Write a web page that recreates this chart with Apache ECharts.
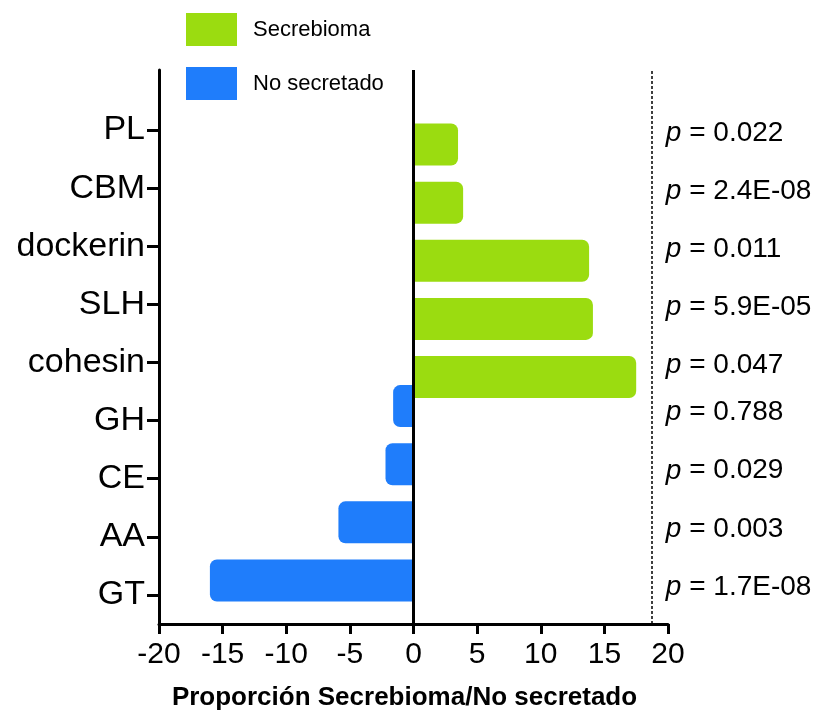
<!DOCTYPE html>
<html><head><meta charset="utf-8">
<script src="https://cdn.jsdelivr.net/npm/echarts@6/dist/echarts.min.js"></script>
<style>html,body{margin:0;padding:0;background:#fff}#c{width:818px;height:718px}</style>
</head><body><div id="c"></div>
<script>
// ---- data ----
const categories = ['PL', 'CBM', 'dockerin', 'SLH', 'cohesin', 'GH', 'CE', 'AA', 'GT'];
const secrebioma = [3.5, 3.9, 13.8, 14.1, 17.5, null, null, null, null];
const noSecretado = [null, null, null, null, null, -1.6, -2.2, -5.9, -16.0];
const pValues = ['0.022', '2.4E-08', '0.011', '5.9E-05', '0.047', '0.788', '0.029', '0.003', '1.7E-08'];
const seriesNames = ['Secrebioma', 'No secretado'];
const xMin = -20, xMax = 20, xInterval = 5;
const thresholdX = 18.7;
const axisTitle = 'Proporción Secrebioma/No secretado';

// ---- styling ----
const FONT = "'Liberation Sans', Arial, sans-serif";
const GREEN = '#9bdc10';
const BLUE = '#1f7dfb';
const pX = 19.44;

const greenIdx = categories.map((c, i) => i).filter(i => secrebioma[i] != null);
const blueIdx = categories.map((c, i) => i).filter(i => noSecretado[i] != null);

const pLabel = {
  show: true, position: 'right', distance: 5, opacity: 1,
  formatter: p => '{i|p}{t| = ' + p.data.p + '}',
  color: '#000', fontFamily: FONT, fontSize: 28,
  rich: {
    i: { fontStyle: 'italic', fontFamily: FONT, fontSize: 28, color: '#000' },
    t: { fontFamily: FONT, fontSize: 28, color: '#000' }
  }
};

const option = {
  animation: false,
  backgroundColor: '#fff',
  legend: {
    orient: 'vertical', left: 181, top: 8,
    itemWidth: 51, itemHeight: 33, itemGap: 21,
    icon: 'rect',
    data: seriesNames,
    textStyle: { fontFamily: FONT, fontSize: 22, color: '#000', padding: [0, 0, 0, 11] }
  },
  grid: [
    { left: 159, right: 150, top: 101, bottom: 94 },
    { left: 159, right: 150, top: 70, bottom: 94 }
  ],
  xAxis: [
    {
      gridIndex: 0, type: 'value', min: xMin, max: xMax, interval: xInterval,
      name: axisTitle, nameLocation: 'middle', nameGap: 61,
      nameTextStyle: { fontFamily: FONT, fontSize: 26, fontWeight: 'bold', color: '#000', padding: [0, 18, 0, 0] },
      axisLine: { show: true, onZero: false, lineStyle: { color: '#000', width: 3 } },
      axisTick: { show: true, length: 10, lineStyle: { color: '#000', width: 3 } },
      axisLabel: { fontFamily: FONT, fontSize: 30, color: '#000', margin: 16 },
      splitLine: { show: false }
    },
    {
      gridIndex: 1, type: 'value', min: xMin, max: xMax, interval: xInterval,
      show: false
    }
  ],
  yAxis: [
    {
      gridIndex: 0, type: 'category', data: categories, inverse: true,
      axisLine: { show: false, onZero: false },
      axisTick: { show: true, length: 12, alignWithLabel: true, lineStyle: { color: '#000', width: 3 } },
      axisLabel: { fontFamily: FONT, fontSize: 34, color: '#000', margin: 14 },
      splitLine: { show: false }
    },
    {
      gridIndex: 1, type: 'value', min: 0, max: 1,
      axisLine: { show: true, onZero: false, lineStyle: { color: '#000', width: 3 } },
      axisTick: { show: false }, axisLabel: { show: false }, splitLine: { show: false }
    }
  ],
  series: [
    {
      name: seriesNames[1], type: 'bar', xAxisIndex: 0, yAxisIndex: 0,
      data: noSecretado, barWidth: 42, barGap: '-31%',
      itemStyle: { color: BLUE, borderRadius: [7, 0, 0, 7] }
    },
    {
      name: seriesNames[0], type: 'bar', xAxisIndex: 0, yAxisIndex: 0,
      data: secrebioma, barWidth: 42, barGap: '-31%',
      itemStyle: { color: GREEN, borderRadius: [0, 7, 7, 0] }
    },
    {
      type: 'scatter', xAxisIndex: 0, yAxisIndex: 0, symbolSize: 0, silent: true,
      itemStyle: { opacity: 1 },
      data: greenIdx.map(i => ({ value: [pX, categories[i]], p: pValues[i] })),
      label: Object.assign({}, pLabel, { offset: [0, 3] })
    },
    {
      type: 'scatter', xAxisIndex: 0, yAxisIndex: 0, symbolSize: 0, silent: true,
      itemStyle: { opacity: 1 },
      data: blueIdx.map(i => ({ value: [pX, categories[i]], p: pValues[i] })),
      label: Object.assign({}, pLabel, { offset: [0, -8] })
    },
    {
      type: 'scatter', xAxisIndex: 1, yAxisIndex: 1, data: [], silent: true,
      markLine: {
        silent: true, symbol: 'none', label: { show: false },
        data: [
          { xAxis: 0, lineStyle: { color: '#000', width: 3, type: 'solid' } },
          { xAxis: thresholdX, lineStyle: { color: '#000', width: 1.5, type: [3, 2] } }
        ]
      }
    }
  ]
};

const chart = echarts.init(document.getElementById('c'), null, { renderer: 'canvas' });
chart.setOption(option);
</script>
</body></html>
